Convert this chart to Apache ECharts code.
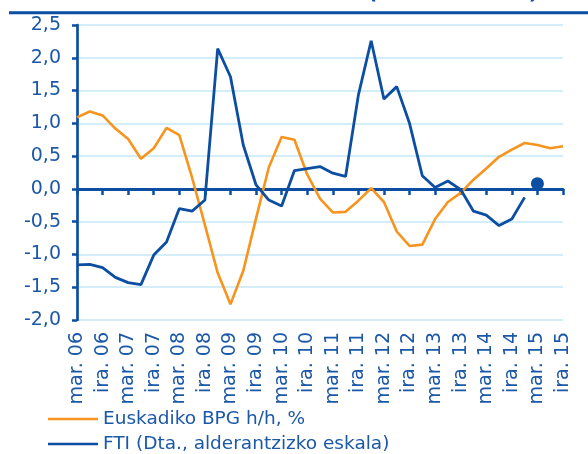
<!DOCTYPE html>
<html>
<head>
<meta charset="utf-8">
<script src="https://cdn.jsdelivr.net/npm/echarts@6/dist/echarts.min.js"></script>
<style>
html, body { margin: 0; padding: 0; background: #fff; }
#chart { width: 588px; height: 454px; }
</style>
</head>
<body>
<div id="chart"></div>
<script>
// quarterly labels, only every second one is shown (mar. / ira.)
const quarters = [
    'mar. 06', 'eka. 06', 'ira. 06', 'abe. 06',
    'mar. 07', 'eka. 07', 'ira. 07', 'abe. 07',
    'mar. 08', 'eka. 08', 'ira. 08', 'abe. 08',
    'mar. 09', 'eka. 09', 'ira. 09', 'abe. 09',
    'mar. 10', 'eka. 10', 'ira. 10', 'abe. 10',
    'mar. 11', 'eka. 11', 'ira. 11', 'abe. 11',
    'mar. 12', 'eka. 12', 'ira. 12', 'abe. 12',
    'mar. 13', 'eka. 13', 'ira. 13', 'abe. 13',
    'mar. 14', 'eka. 14', 'ira. 14', 'abe. 14',
    'mar. 15', 'eka. 15', 'ira. 15'
];

const bpg = [
    1.09, 1.18, 1.12, 0.92, 0.76, 0.46, 0.62, 0.93,
    0.82, 0.17, -0.55, -1.28, -1.76, -1.25, -0.45, 0.33,
    0.79, 0.75, 0.22, -0.15, -0.36, -0.35, -0.18, 0.01,
    -0.2, -0.65, -0.87, -0.85, -0.46, -0.2, -0.06, 0.14,
    0.31, 0.49, 0.6, 0.7, 0.67, 0.62, 0.65
];

const fti = [
    -1.16, -1.15, -1.2, -1.35, -1.43, -1.46, -1.01, -0.81,
    -0.3, -0.34, -0.17, 2.14, 1.71, 0.67, 0.06, -0.17,
    -0.26, 0.28, 0.31, 0.34, 0.24, 0.19, 1.43, 2.26,
    1.37, 1.56, 1.0, 0.2, 0.02, 0.12, -0.01, -0.34,
    -0.4, -0.56, -0.46, -0.13, null, null, null
];

// single forecast point drawn as a dot
const ftiForecast = [['mar. 15', 0.08]];

const blue = '#0b4ea2';
const orange = '#f7941d';
const textBlue = '#1c58a8';
const font = 'DejaVu Sans';

const chart = echarts.init(document.getElementById('chart'));

chart.setOption({
    animation: false,
    grid: { left: 77, right: 25, top: 25, bottom: 134, outerBoundsMode: 'none' },
    legend: {
        data: ['Euskadiko BPG h/h, %', 'FTI (Dta., alderantzizko eskala)'],
        orient: 'vertical',
        left: 43,
        top: 404,
        height: 60,
        icon: 'rect',
        itemWidth: 50,
        itemHeight: 2.5,
        itemGap: 5,
        textStyle: { fontSize: 18.5, lineHeight: 20, color: textBlue, fontFamily: font }
    },
    xAxis: [
        {
            type: 'category',
            data: quarters,
            boundaryGap: false,
            axisLine: { onZero: true, lineStyle: { color: blue, width: 3 } },
            axisTick: { interval: 1, length: 6, lineStyle: { color: blue, width: 2.5 } },
            axisLabel: { show: false },
            splitLine: { show: false }
        },
        {
            type: 'category',
            data: quarters,
            position: 'bottom',
            boundaryGap: false,
            axisLine: { show: false, onZero: false },
            axisTick: { show: false },
            axisLabel: {
                interval: 1,
                rotate: 90,
                margin: 12,
                fontSize: 19,
                color: textBlue,
                fontFamily: font
            }
        }
    ],
    yAxis: {
        type: 'value',
        min: -2,
        max: 2.5,
        interval: 0.5,
        axisLine: { show: true, lineStyle: { color: blue, width: 2.7 } },
        axisTick: { show: true, length: 5, lineStyle: { color: blue, width: 2.5 } },
        axisLabel: {
            margin: 16,
            fontSize: 19,
            color: textBlue,
            fontFamily: font,
            formatter: v => v.toFixed(1).replace('.', ',')
        },
        splitLine: { lineStyle: { color: '#c5e9f7', width: 1.5 } }
    },
    series: [
        {
            name: 'Euskadiko BPG h/h, %',
            type: 'line',
            data: bpg,
            symbol: 'none',
            itemStyle: { color: orange },
            lineStyle: { color: orange, width: 2.6 },
            z: 2
        },
        {
            name: 'FTI (Dta., alderantzizko eskala)',
            type: 'line',
            data: fti,
            symbol: 'none',
            itemStyle: { color: blue },
            lineStyle: { color: blue, width: 2.8 },
            z: 3
        },
        {
            name: 'FTI aurreikuspena',
            type: 'scatter',
            data: ftiForecast,
            symbolSize: 13,
            itemStyle: { color: blue, opacity: 1 },
            z: 4
        }
    ],
    graphic: [
        {
            type: 'line',
            shape: { x1: 9, y1: 12.7, x2: 588, y2: 12.7 },
            style: { stroke: blue, lineWidth: 3 }
        },
        {
            type: 'text',
            right: 50,
            top: -16,
            style: {
                text: '(aldakuntza %)',
                font: 'bold 20px "DejaVu Sans"',
                fill: blue
            }
        }
    ]
});
</script>
</body>
</html>
